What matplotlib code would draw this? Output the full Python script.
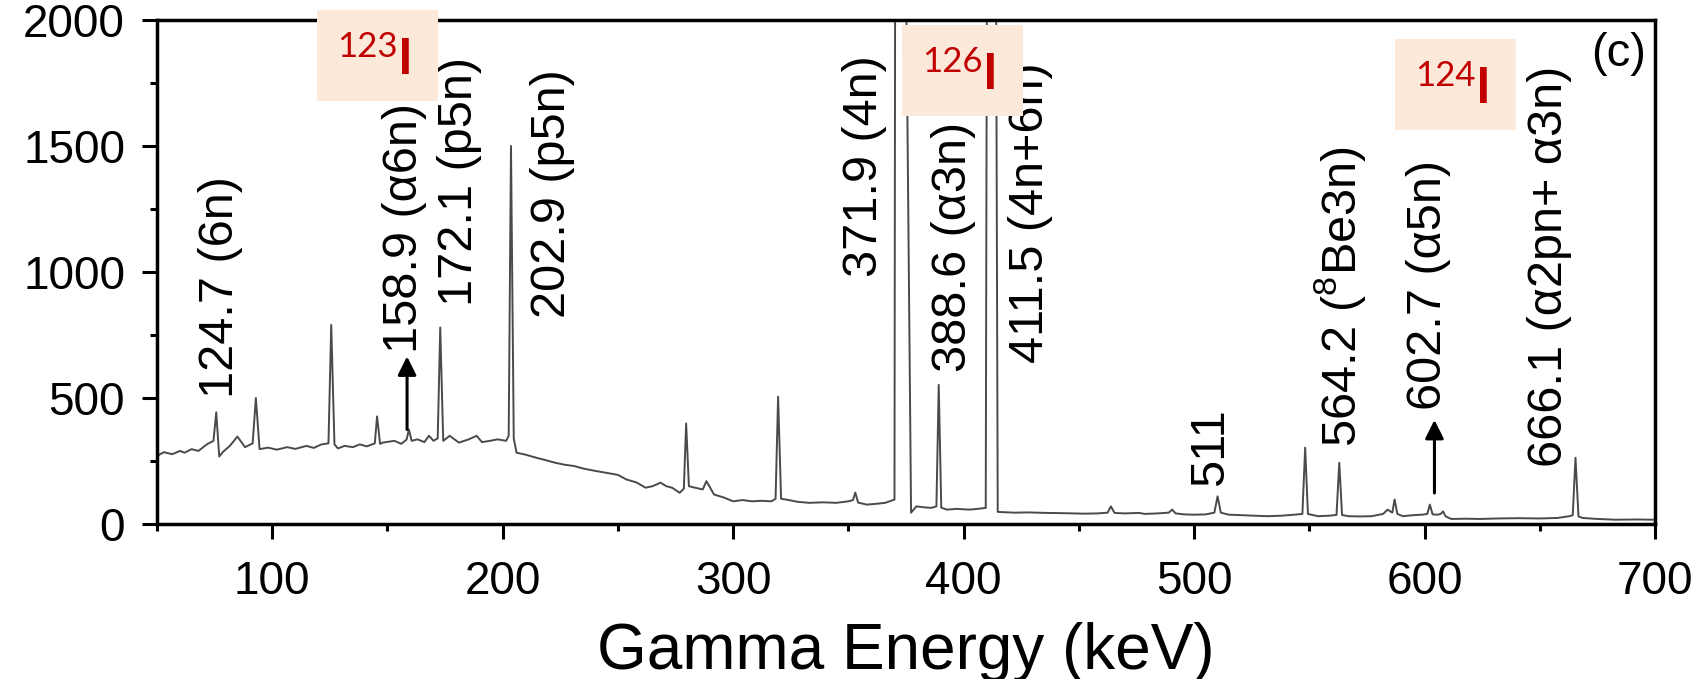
import matplotlib
matplotlib.use("Agg")
import matplotlib.pyplot as plt
from matplotlib.patches import Rectangle
from matplotlib.ticker import MultipleLocator

plt.rcParams['font.family'] = ['Liberation Sans', 'DejaVu Sans']
plt.rcParams['mathtext.fontset'] = 'custom'
plt.rcParams['mathtext.rm'] = 'Liberation Sans'
plt.rcParams['mathtext.it'] = 'Liberation Sans:italic'

# spectrum (keV, counts)
energy = [50, 53, 56.6, 60, 62, 65, 68, 71.6, 74.5, 75.7, 77, 78.5, 81.6, 84.9, 88.2, 91.5, 92.9, 94.5,
          98.2, 102, 106.5, 110, 114.8, 118, 121.4, 124.4, 125.6, 127, 128.5, 131.4, 135, 138, 141, 144.5,
          145.5, 146.8, 148, 153, 156, 158.3, 159.3, 160.5, 163, 166, 168, 170, 171.8, 172.9, 174.2, 177,
          181, 185, 188.7, 191, 194.5, 197.8, 201.5, 202.6, 203.6, 204.8, 206, 210, 214.5, 218, 222.8, 227,
          231, 235, 239.4, 245, 250, 253.6, 258, 262, 265, 268.5, 271, 273.5, 276.8, 278.6, 279.6, 280.8,
          283, 286.8, 288.4, 291.7, 296, 300, 304, 308.3, 312, 316.6, 318.4, 319.5, 320.8, 323, 328, 333,
          339, 344.7, 350, 352, 353, 354.2, 358, 362, 366, 370.0, 370.4, 374.2, 377.2, 379.5, 383, 386,
          388.2, 389.2, 390.3, 392.7, 397, 402.6, 406, 409.6, 410.3, 413.8, 414.8, 417.5, 422, 428, 435.8,
          443, 452.3, 458, 462.5, 463.9, 465.5, 470, 476, 478.8, 484, 489, 490.5, 492, 496, 500, 505, 508.8,
          510.2, 511.6, 515, 520, 526, 532, 538, 543.6, 547, 548.2, 549.4, 553.7, 558.7, 561.8, 563, 564.2,
          567, 572, 577, 582, 584, 586, 587, 588.2, 590.6, 595, 599, 601.2, 602.3, 603.5, 605.7, 607, 608,
          609.2, 611.6, 618, 624, 632, 641, 650, 657.7, 662.8, 664.3, 665.5, 666.8, 668.6, 675, 683, 692, 700]
counts = [270, 285, 277, 290, 283, 297, 290, 316, 330, 443, 268, 285, 310, 347, 305, 320, 500, 297,
          303, 295, 305, 298, 310, 302, 316, 320, 790, 316, 300, 310, 305, 316, 308, 320,
          427, 318, 323, 330, 318, 335, 375, 330, 336, 325, 350, 330, 340, 780, 330, 350,
          323, 335, 350, 325, 330, 336, 330, 350, 1500, 340, 283, 275, 263, 255, 243, 235,
          230, 220, 212, 203, 195, 177, 165, 144, 150, 164, 150, 144, 124, 140, 399, 150,
          145, 137, 170, 117, 105, 90, 95, 90, 92, 90, 100, 505, 100, 97, 88, 84,
          86, 84, 90, 95, 125, 85, 77, 80, 84, 97, 3000, 3000, 45, 70, 66, 64,
          70, 552, 65, 57, 60, 57, 60, 64, 3000, 3000, 48, 47, 45, 46, 44,
          43, 41, 42, 45, 70, 44, 42, 44, 40, 42, 45, 57, 42, 38, 37, 38, 45,
          110, 45, 37, 35, 33, 31, 33, 37, 40, 303, 40, 31, 33, 36, 243, 36,
          31, 30, 31, 40, 57, 45, 97, 40, 31, 35, 37, 40, 77, 38, 37, 40, 50,
          30, 20, 21, 20, 22, 23, 22, 24, 31, 35, 263, 30, 24, 20, 17, 18, 17]

# peak labels: text, energy of label centre, counts at label start
peak_labels = ["124.7 (6n)", "158.9 (α6n)", "172.1 (p5n)", "202.9 (p5n)", "371.9 (4n)",
               "388.6 (α3n)", "411.5 (4n+6n)", "511", "564.2 ($^{8}$Be3n)", "602.7 (α5n)",
               "666.1 (α2pn+ α3n)"]
label_x = [77.4, 157.4, 181.3, 221.7, 357, 395.7, 429, 507, 563.5, 601.7, 654.3]
label_y = [500, 680, 865, 817, 980, 605, 640, 150, 306, 452, 228]

# arrows: energy, tail counts, tip counts
arrow_x = [158.5, 604.3]
arrow_tail = [375, 123]
arrow_tip = [665, 413]

isotopes = ["123", "126", "124"]
# boxes: left / top in figure pixels
box_left = [317, 902, 1395]
box_top = [10, 25, 39]

W, H = 1706, 679
fig = plt.figure(figsize=(W / 100, H / 100), dpi=100)
ax = fig.add_axes([157 / W, 1 - 524 / H, (1655 - 157) / W, (524 - 20) / H])

ax.plot(energy, counts, color='#4a4a4a', lw=1.4)
ax.set_xlim(50, 700)
ax.set_ylim(0, 2000)
ax.set_xticks(range(100, 701, 100))
ax.set_yticks(range(0, 2001, 500))
ax.xaxis.set_minor_locator(MultipleLocator(50))
ax.yaxis.set_minor_locator(MultipleLocator(250))
ax.tick_params(which='major', length=11, width=2.2, labelsize=33, pad=12)
ax.tick_params(axis='x', which='major', pad=15)
ax.tick_params(which='minor', length=5, width=2.2)
for sp in ax.spines.values():
    sp.set_linewidth(2.5)
ax.set_xlabel('Gamma Energy (keV)', fontsize=46, labelpad=13)

for txt, x, y in zip(peak_labels, label_x, label_y):
    ax.text(x, y, txt, rotation=90, ha='center', va='bottom', fontsize=35)

for x, t0, t1 in zip(arrow_x, arrow_tail, arrow_tip):
    ax.annotate('', xy=(x, t1), xytext=(x, t0),
                arrowprops=dict(arrowstyle='-|>', mutation_scale=28, lw=2.2, color='k',
                                shrinkA=0, shrinkB=0))

ax.text(684, 1865, '(c)', ha='center', va='center', fontsize=34)

for name, bx, by in zip(isotopes, box_left, box_top):
    fig.add_artist(Rectangle((bx / W, 1 - (by + 91) / H), 121 / W, 91 / H,
                             transform=fig.transFigure, facecolor='#FCE9DA',
                             edgecolor='none', zorder=5))
    fig.text((bx + 20) / W, 1 - (by + 47) / H, name, color='#C00000', fontsize=25,
             family='Lato', ha='left', va='baseline', zorder=6)
    fig.text((bx + 81) / W, 1 - (by + 64) / H, 'I', color='#C00000', fontsize=36,
             family='Lato', fontweight='bold', ha='left', va='baseline', zorder=6)

fig.savefig('out.png', dpi=100)
